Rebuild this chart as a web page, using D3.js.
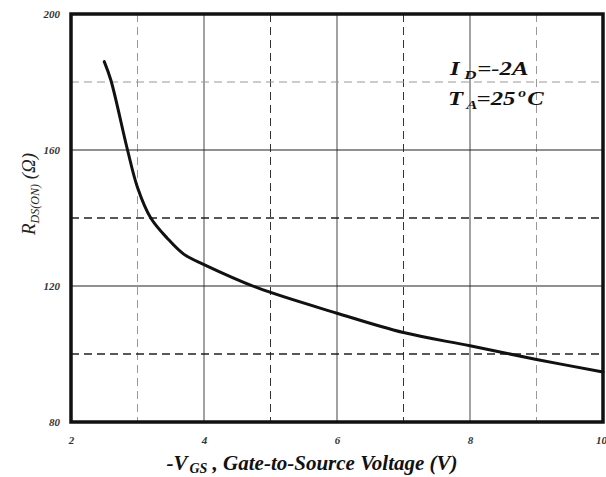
<!DOCTYPE html>
<html>
<head>
<meta charset="utf-8">
<script src="https://cdn.jsdelivr.net/npm/d3@7"></script>
<style>
  body { margin: 0; background: #fff; }
  svg { display: block; }
  .tick text { font-family: "Liberation Serif", serif; font-style: italic; font-weight: bold; font-size: 11px; fill: #333; }
  .lbl { font-family: "Liberation Serif", serif; font-style: italic; }
</style>
</head>
<body>
<div id="chart"></div>
<script>
// data (-Vgs in V, Rds(on) in ohm)
const vgs = [2.5, 2.6, 2.85, 3.0, 3.2, 3.45, 3.7, 4.0, 4.8, 6, 7, 8, 9, 10];
const rds = [186, 180.5, 160, 149, 140, 134, 129.3, 126.3, 119.5, 112, 106.3, 102.4, 98.4, 94.7];

const xTicks = [2, 4, 6, 8, 10];
const yTicks = [80, 120, 160, 200];
const xSolid = [4, 6, 8];
const xDashed = [3, 5, 7, 9];
const ySolid = [120, 160];
const yDashed = [100, 140, 180];

const W = 606, H = 477;
const margin = {top: 14, right: 3, bottom: 55, left: 71};
const width = W - margin.left - margin.right;
const height = H - margin.top - margin.bottom;

const svg = d3.select("#chart").append("svg")
    .attr("width", W)
    .attr("height", H);

const g = svg.append("g")
    .attr("transform", `translate(${margin.left},${margin.top})`);

const x = d3.scaleLinear().domain([2, 10]).range([0, width]);
const y = d3.scaleLinear().domain([80, 200]).range([height, 0]);

// grid - the light and dark dashes are different in the scan
const lightX = [3, 9];
const lightY = [180];

g.selectAll(".vs").data(xSolid).enter().append("line")
    .attr("x1", d => x(d)).attr("x2", d => x(d))
    .attr("y1", 0).attr("y2", height)
    .style("stroke", "#444").style("stroke-width", 1);

g.selectAll(".vd").data(xDashed).enter().append("line")
    .attr("x1", d => x(d)).attr("x2", d => x(d))
    .attr("y1", 0).attr("y2", height)
    .style("stroke", d => lightX.includes(d) ? "#999" : "#333")
    .style("stroke-width", 1)
    .style("stroke-dasharray", "8,5");

g.selectAll(".hs").data(ySolid).enter().append("line")
    .attr("x1", 0).attr("x2", width)
    .attr("y1", d => y(d)).attr("y2", d => y(d))
    .style("stroke", "#222").style("stroke-width", 1);

g.selectAll(".hd").data(yDashed).enter().append("line")
    .attr("x1", 0).attr("x2", width)
    .attr("y1", d => y(d)).attr("y2", d => y(d))
    .style("stroke", d => lightY.includes(d) ? "#999" : "#222")
    .style("stroke-width", d => lightY.includes(d) ? 1 : 1.3)
    .style("stroke-dasharray", "8,5");

// axes (labels only, frame drawn separately)
g.append("g")
    .attr("transform", `translate(0,${height})`)
    .call(d3.axisBottom(x).tickValues(xTicks).tickSize(0).tickPadding(14).tickFormat(d3.format("d")))
    .call(a => a.select(".domain").remove())
    .call(a => a.selectAll(".tick text").filter(d => d === 10).attr("dx", -2));

g.append("g")
    .call(d3.axisLeft(y).tickValues(yTicks).tickSize(0).tickPadding(11).tickFormat(d3.format("d")))
    .call(a => a.select(".domain").remove());

// curve
const line = d3.line()
    .x((d, i) => x(vgs[i]))
    .y(d => y(d))
    .curve(d3.curveCatmullRom.alpha(0.5));

g.append("path")
    .datum(rds)
    .attr("d", line)
    .style("fill", "none")
    .style("stroke", "#111")
    .style("stroke-width", 3)
    .style("stroke-linecap", "round");

// frame
g.append("rect")
    .attr("x", 0).attr("y", 0)
    .attr("width", width).attr("height", height)
    .style("fill", "none")
    .style("stroke", "#111")
    .style("stroke-width", 3.5);

// conditions text, stretched wide like the scan
const t1 = svg.append("text").attr("class", "lbl")
    .attr("transform", "translate(450,75) scale(1.3,1)")
    .style("font-size", "19px").style("font-weight", "bold").style("fill", "#111");
t1.append("tspan").attr("x", 0).text("I");
t1.append("tspan").attr("x", 11).attr("dy", 4).style("font-size", "13px").text("D");
t1.append("tspan").attr("x", 21).attr("dy", -4).text("=-2A");

const t2 = svg.append("text").attr("class", "lbl")
    .attr("transform", "translate(448,105) scale(1.3,1)")
    .style("font-size", "19px").style("font-weight", "bold").style("fill", "#111");
t2.append("tspan").attr("x", 0).text("T");
t2.append("tspan").attr("x", 14).attr("dy", 4).style("font-size", "13px").text("A");
t2.append("tspan").attr("x", 22).attr("dy", -4).text("=25");
t2.append("tspan").attr("x", 54).attr("dy", -8).style("font-size", "12px").text("o");
t2.append("tspan").attr("x", 61).attr("dy", 8).text("C");

// y axis label
const yl = svg.append("text").attr("class", "lbl")
    .attr("transform", "translate(35,194) rotate(-90)")
    .attr("text-anchor", "middle")
    .style("font-size", "19px").style("fill", "#222");
yl.append("tspan").text("R");
yl.append("tspan").attr("dy", 4).style("font-size", "12px").text("DS(ON)");
yl.append("tspan").attr("dy", -4).text(" (Ω)");

// x axis label
const xl = svg.append("text").attr("class", "lbl")
    .attr("x", 312).attr("y", 470)
    .attr("text-anchor", "middle")
    .style("font-size", "21px").style("font-weight", "bold").style("fill", "#111");
xl.append("tspan").text("-V");
xl.append("tspan").attr("dx", 2).attr("dy", 3).style("font-size", "14px").text("GS");
xl.append("tspan").attr("dy", -3).text(" , Gate-to-Source Voltage (V)");
</script>
</body>
</html>
